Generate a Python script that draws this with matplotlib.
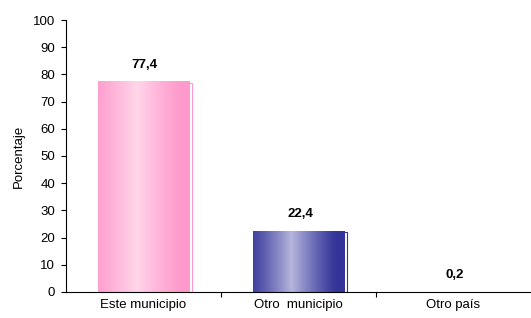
import numpy as np
import matplotlib.pyplot as plt
from matplotlib.colors import LinearSegmentedColormap
from matplotlib.patches import Rectangle

categories = ['Este municipio', 'Otro  municipio', 'Otro país']
values = [77.4, 22.4, 0.2]
labels = ['77,4', '22,4', '0,2']
edge_colors = ['#FF99CC', '#333399', '#333399']
mid_colors = ['#FFD6EA', '#B4B4DC', '#B4B4DC']

plt.rcParams['font.family'] = ['Liberation Sans', 'DejaVu Sans']

fig = plt.figure(figsize=(5.31, 3.18), dpi=100)
ax = fig.add_axes([0.124, 0.082, 0.876, 0.855])

width = 0.59
x = np.arange(len(categories))
bars = ax.bar(x, values, width=width, color='none', edgecolor='none')

# horizontal gradient: dark at the sides, light towards the middle
t = np.linspace(0, 1, 200)
profile = np.clip(1 - np.abs(t - 0.42) / 0.5, 0, 1) ** 1.2
grad = profile.reshape(1, -1)

for b, c0, c1 in zip(bars, edge_colors, mid_colors):
    x0, w, h = b.get_x(), b.get_width(), b.get_height()
    if h < 1:
        continue
    cmap = LinearSegmentedColormap.from_list('g', [c0, c1])
    im = ax.imshow(grad, cmap=cmap, aspect='auto', extent=[x0, x0 + w, 0, h],
                   zorder=2, interpolation='bilinear')
    im.set_clip_path(b)
    # thin offset outline for the pseudo 3D look
    ax.add_patch(Rectangle((x0 + 0.01, 0), w + 0.008, h - 0.4, fill=False,
                           edgecolor=c0, linewidth=0.8, zorder=1))

for xi, v, lab in zip(x, values, labels):
    ax.text(xi + 0.01, v + 4, lab, ha='center', va='bottom', fontsize=9.5,
            fontweight='bold')

ax.set_xlim(-0.5, 2.5)
ax.set_ylim(0, 100)
ax.set_yticks(range(0, 101, 10))
ax.set_xticks([0.5, 1.5])
ax.set_xticklabels([])
ax.set_xticks(x, minor=True)
ax.set_xticklabels(categories, minor=True)
ax.tick_params(axis='x', which='minor', length=0, labelsize=9.5, pad=5)
ax.tick_params(axis='x', which='major', length=3.6, direction='out', width=0.8)
ax.tick_params(axis='y', labelsize=9.5, length=3.6, width=0.8, pad=4)
ax.set_ylabel('Porcentaje', fontsize=9.5, labelpad=6)

ax.spines['top'].set_visible(False)
ax.spines['right'].set_visible(False)

fig.savefig('out.png', dpi=100)
